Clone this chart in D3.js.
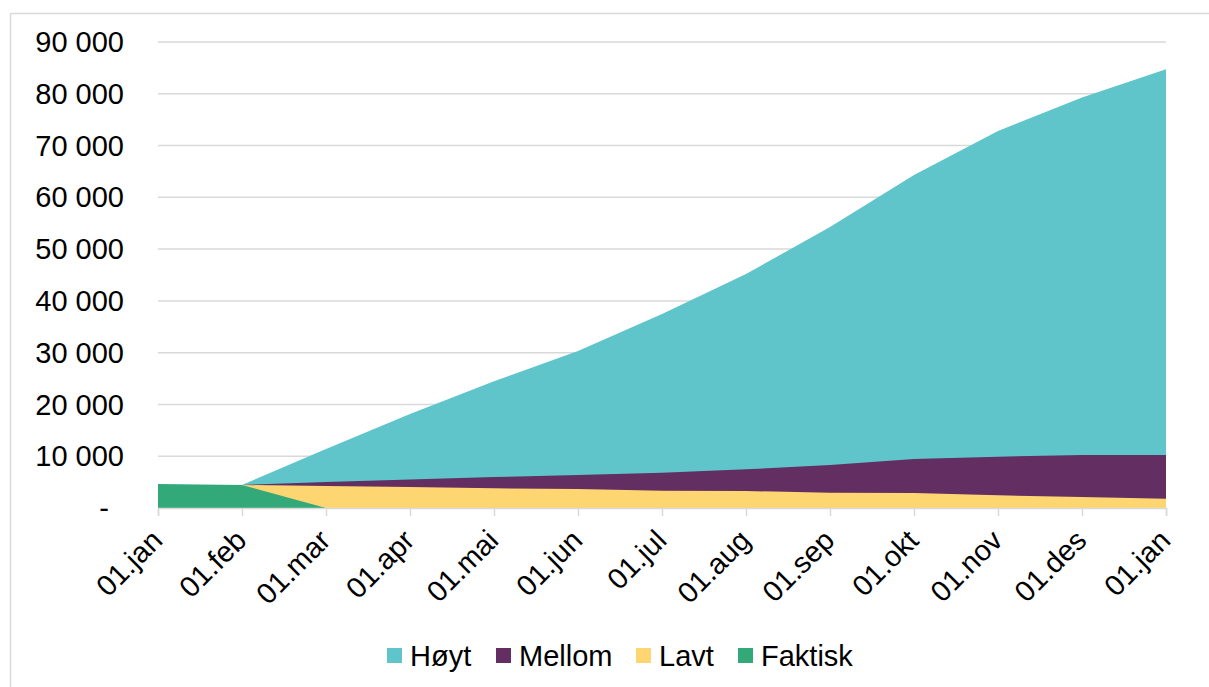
<!DOCTYPE html>
<html>
<head>
<meta charset="utf-8">
<script src="https://cdn.jsdelivr.net/npm/d3@7"></script>
<style>
  body { margin: 0; background: #fff; }
  svg { display: block; font-family: "Liberation Sans", Arial, sans-serif; }
</style>
</head>
<body>
<svg id="chart" width="1209" height="687"></svg>
<script>
// data
const months = ["01.jan", "01.feb", "01.mar", "01.apr", "01.mai", "01.jun", "01.jul",
                "01.aug", "01.sep", "01.okt", "01.nov", "01.des", "01.jan "];
const hoyt    = [null, 4450, 11400, 18150, 24500, 30300, 37450, 45200, 54250, 64300, 72800, 79300, 84750];
const mellom  = [null, 4450, 5020, 5500, 5980, 6370, 6820, 7470, 8300, 9460, 9900, 10230, 10230];
const lavt    = [null, 4450, 4250, 4050, 3800, 3650, 3340, 3280, 2950, 2900, 2450, 2120, 1800];
const faktisk = [4630, 4450, 0, null, null, null, null, null, null, null, null, null, null];
const yTicks  = [0, 10000, 20000, 30000, 40000, 50000, 60000, 70000, 80000, 90000];

const series = [
  { name: "Høyt",    values: hoyt,    color: "#5FC5CB" },
  { name: "Mellom",  values: mellom,  color: "#632E62" },
  { name: "Lavt",    values: lavt,    color: "#FDD672" },
  { name: "Faktisk", values: faktisk, color: "#33A879" }
];

const svg = d3.select("#chart");

// outer frame
svg.append("path")
  .attr("d", "M10.5,687 V13.5 H1209")
  .attr("fill", "none")
  .attr("stroke", "#d9d9d9")
  .attr("stroke-width", 1.5);

const plotL = 158, plotR = 1166, plotT = 42, plotB = 508;

const x = d3.scalePoint().domain(months).range([plotL, plotR]);
const y = d3.scaleLinear().domain([0, 90000]).range([plotB, plotT]);

const fmt = v => v === 0 ? "-" : d3.format(",")(v).replace(/,/g, " ");

// gridlines
svg.append("g")
  .selectAll("line")
  .data(yTicks.filter(d => d > 0))
  .join("line")
  .attr("x1", plotL).attr("x2", plotR)
  .attr("y1", d => y(d)).attr("y2", d => y(d))
  .attr("stroke", "#d9d9d9")
  .attr("stroke-width", 1.5);

// areas
const area = d3.area()
  .defined(d => d != null)
  .x((d, i) => x(months[i]))
  .y0(y(0))
  .y1(d => y(d));

svg.append("g")
  .selectAll("path")
  .data(series)
  .join("path")
  .attr("d", s => area(s.values))
  .attr("fill", s => s.color);

// x axis
const xAxis = svg.append("g")
  .attr("transform", `translate(0,${plotB})`)
  .call(d3.axisBottom(x).tickSize(8).tickFormat(""));
xAxis.select(".domain").attr("stroke", "#d9d9d9").attr("stroke-width", 1.5);
xAxis.selectAll(".tick line").attr("stroke", "#d9d9d9").attr("stroke-width", 1.5);

svg.append("g")
  .selectAll("text")
  .data(months)
  .join("text")
  .attr("transform", d => `translate(${x(d) - 1},${plotB + 27}) rotate(-45)`)
  .attr("text-anchor", "end")
  .attr("dy", "0.35em")
  .style("font-size", "29px")
  .attr("fill", "#000")
  .text(d => d.trim());

// y labels
svg.append("g")
  .selectAll("text")
  .data(yTicks)
  .join("text")
  .attr("x", d => d === 0 ? 109 : 124)
  .attr("y", d => y(d))
  .attr("dy", "0.35em")
  .attr("text-anchor", "end")
  .style("font-size", "29px")
  .attr("fill", "#000")
  .text(fmt);

// legend
const legendX = [387, 496, 636, 738];
const legend = svg.append("g")
  .selectAll("g")
  .data(series)
  .join("g")
  .attr("transform", (d, i) => `translate(${legendX[i]},648)`);
legend.append("rect")
  .attr("width", 15).attr("height", 15)
  .attr("fill", d => d.color);
legend.append("text")
  .attr("x", 23).attr("y", 7.5)
  .attr("dy", "0.35em")
  .style("font-size", "29px")
  .attr("fill", "#000")
  .text(d => d.name);
</script>
</body>
</html>
